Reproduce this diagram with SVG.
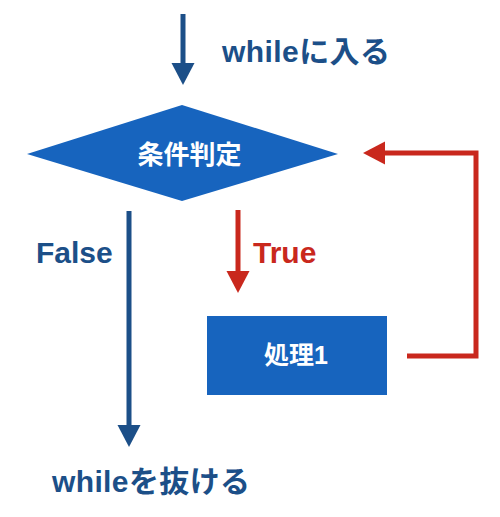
<svg xmlns="http://www.w3.org/2000/svg" width="500" height="517" viewBox="0 0 500 517">
<style>
.lbl{font-family:"Liberation Sans","Noto Sans CJK JP",sans-serif;font-weight:bold;font-size:30px}
.blue{fill:#1c4f88}
.red{fill:#c9281d}
.wt{fill:#ffffff;font-family:"Liberation Sans","Noto Sans CJK JP",sans-serif;font-weight:bold;font-size:25px}
.lb{stroke:#1c4f88;stroke-width:5;fill:none}
.lr{stroke:#c9281d;stroke-width:5;fill:none}
</style>
<defs>
<marker id="ab" markerUnits="userSpaceOnUse" markerWidth="24" markerHeight="24" refX="0" refY="11.5" orient="auto">
<path d="M0,0 L22,11.5 L0,23 z" fill="#1c4f88"/>
</marker>
<marker id="ar" markerUnits="userSpaceOnUse" markerWidth="24" markerHeight="24" refX="0" refY="11.5" orient="auto">
<path d="M0,0 L22,11.5 L0,23 z" fill="#c9281d"/>
</marker>
</defs>
<g id="connectors">
<line class="lb" x1="183" y1="14" x2="183" y2="63" marker-end="url(#ab)"/>
<line class="lb" x1="129" y1="211" x2="129" y2="425" marker-end="url(#ab)"/>
<line class="lr" x1="238" y1="210" x2="238" y2="271" marker-end="url(#ar)"/>
<polyline class="lr" points="407,356 476,356 476,153 385,153" marker-end="url(#ar)"/>
</g>
<g id="start-label"><text class="lbl blue" x="222" y="62" textLength="168">whileに入る</text></g>
<g id="decision">
<polygon points="27,154 182,105 338,154 182,201" fill="#1764be"/>
<text class="wt" x="189.5" y="164" text-anchor="middle" style="font-size:26px">条件判定</text>
</g>
<g id="false-label"><text class="lbl blue" x="36" y="263">False</text></g>
<g id="true-label"><text class="lbl red" x="253" y="263">True</text></g>
<g id="process">
<rect x="207" y="316" width="180" height="79" fill="#1764be"/>
<text class="wt" x="296" y="364" text-anchor="middle">処理1</text>
</g>
<g id="end-label"><text class="lbl blue" x="52" y="492" textLength="198">whileを抜ける</text></g>
</svg>
